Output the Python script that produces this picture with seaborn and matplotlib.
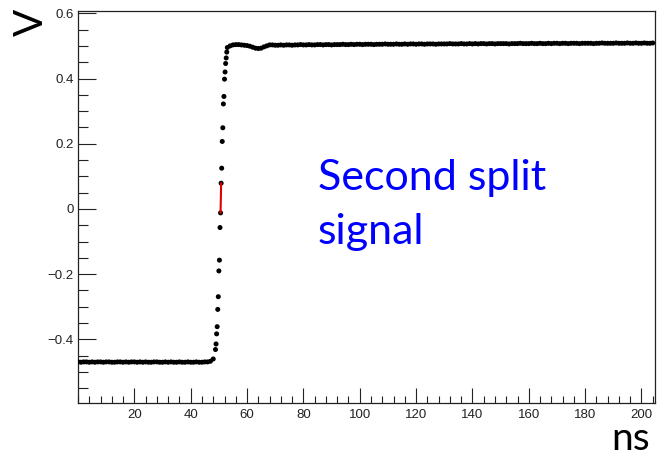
import numpy as np
import pandas as pd
import matplotlib
matplotlib.use("Agg")
import matplotlib.pyplot as plt
from matplotlib.ticker import MultipleLocator, FixedLocator
import seaborn as sns

# ---- data ----
base_t = list(range(0, 49))
base_v = [-0.469, -0.470, -0.469, -0.469, -0.470, -0.469, -0.470, -0.469, -0.469, -0.470,
          -0.469, -0.469, -0.470, -0.470, -0.469, -0.469, -0.470, -0.469, -0.470, -0.469,
          -0.469, -0.470, -0.469, -0.470, -0.469, -0.470, -0.470, -0.469, -0.469, -0.470,
          -0.470, -0.469, -0.470, -0.469, -0.470, -0.470, -0.469, -0.470, -0.470, -0.469,
          -0.470, -0.470, -0.469, -0.470, -0.470, -0.469, -0.469, -0.467, -0.460]

rise_t = [48.8, 49.0, 49.2, 49.4, 49.6, 49.8, 50.0, 50.2, 50.4, 50.6, 50.8,
          51.0, 51.2, 51.4, 51.6, 51.8, 52.0, 52.2, 52.4, 52.6, 52.8]
rise_v = [-0.431, -0.414, -0.383, -0.361, -0.308, -0.269, -0.190, -0.157, -0.057, -0.012, 0.079,
          0.125, 0.207, 0.249, 0.322, 0.345, 0.398, 0.420, 0.446, 0.463, 0.481]

top_t = list(range(53, 205))
top_v = [0.495, 0.500, 0.503, 0.504, 0.504, 0.503, 0.502, 0.501, 0.499, 0.496,
         0.493, 0.492, 0.493, 0.497, 0.500, 0.503, 0.503, 0.502,
         0.502, 0.503, 0.502, 0.503, 0.503, 0.502, 0.503, 0.503, 0.504, 0.503,
         0.503, 0.504, 0.503, 0.503, 0.504, 0.504, 0.503, 0.504, 0.504, 0.503,
         0.504, 0.504, 0.504, 0.505, 0.504, 0.504, 0.505, 0.504, 0.505, 0.505,
         0.504, 0.505, 0.505, 0.505, 0.504, 0.505, 0.505, 0.505, 0.506, 0.505,
         0.505, 0.505, 0.506, 0.505, 0.505, 0.506, 0.505, 0.506, 0.506, 0.505,
         0.506, 0.506, 0.505, 0.506, 0.506, 0.506, 0.505, 0.506, 0.506, 0.506,
         0.506, 0.507, 0.506, 0.506, 0.506, 0.507, 0.506, 0.506, 0.507, 0.506,
         0.507, 0.506, 0.507, 0.507, 0.506, 0.507, 0.507, 0.506, 0.507, 0.507,
         0.507, 0.507, 0.506, 0.507, 0.507, 0.507, 0.508, 0.507, 0.507, 0.507,
         0.508, 0.507, 0.507, 0.508, 0.507, 0.507, 0.508, 0.507, 0.508, 0.508,
         0.507, 0.508, 0.508, 0.507, 0.508, 0.508, 0.508, 0.507, 0.508, 0.508,
         0.508, 0.508, 0.507, 0.508, 0.508, 0.509, 0.508, 0.508, 0.508, 0.508,
         0.509, 0.508, 0.508, 0.508, 0.509, 0.508, 0.508, 0.509, 0.508, 0.508,
         0.509, 0.508, 0.508, 0.509]

# zero-crossing segment (red)
cross_t = [50.6, 50.8]
cross_v = [-0.012, 0.079]

x_ticks = [20, 40, 60, 80, 100, 120, 140, 160, 180, 200]
y_ticks = [-0.4, -0.2, 0.0, 0.2, 0.4, 0.6]
y_tick_labels = ["\u22120.4", "\u22120.2", "0", "0.2", "0.4", "0.6"]

df = pd.DataFrame({"t": base_t + rise_t + top_t, "v": base_v + rise_v + top_v})
df_cross = pd.DataFrame({"t": cross_t, "v": cross_v})

# ---- plot ----
sns.set_theme(style="white")
plt.rcParams["font.family"] = ["Liberation Sans", "DejaVu Sans"]

fig = plt.figure(figsize=(6.69, 4.59), dpi=100)
ax = fig.add_axes([78 / 669, 1 - 403 / 459, (655 - 78) / 669, (403 - 11) / 459])

sns.scatterplot(data=df, x="t", y="v", ax=ax, color="black", s=13, marker="o",
                linewidth=0, edgecolor="none", zorder=3)
sns.lineplot(data=df_cross, x="t", y="v", ax=ax, color="#e00000", linewidth=1.5,
             zorder=4, sort=False, estimator=None)

ax.set_xlim(0, 204.8)
ax.set_ylim(-0.595, 0.607)
ax.set_xlabel("")
ax.set_ylabel("")

ax.xaxis.set_major_locator(FixedLocator(x_ticks))
ax.xaxis.set_minor_locator(MultipleLocator(4))
ax.yaxis.set_major_locator(FixedLocator(y_ticks))
ax.set_yticklabels(y_tick_labels)
ax.yaxis.set_minor_locator(MultipleLocator(0.05))

ax.tick_params(axis="x", which="major", direction="in", length=10.5, width=0.8,
               colors="#222222", labelsize=9.5, pad=4, bottom=True, top=False)
ax.tick_params(axis="x", which="minor", direction="in", length=5, width=0.8,
               colors="#222222", bottom=True, top=False)
ax.tick_params(axis="y", which="major", direction="in", length=13, width=0.8,
               colors="#222222", labelsize=9.5, pad=3, left=True, right=False)
ax.tick_params(axis="y", which="minor", direction="in", length=7, width=0.8,
               colors="#222222", left=True, right=False)

for s in ax.spines.values():
    s.set_visible(True)
    s.set_color("#222222")
    s.set_linewidth(0.9)

fig.text(31 / 669, 1 - 22 / 459, "V", rotation=90, ha="center", va="center",
         fontsize=29, family=["Lato", "DejaVu Sans"], color="black")
fig.text(631 / 669, 1 - 450 / 459, "ns", ha="center", va="baseline",
         fontsize=28, family=["Lato", "DejaVu Sans"], color="black")
fig.text(318 / 669, 1 - 190 / 459, "Second split", ha="left", va="baseline",
         fontsize=31, family=["Lato", "DejaVu Sans"], color="#0000ff")
fig.text(318 / 669, 1 - 244 / 459, "signal", ha="left", va="baseline",
         fontsize=31, family=["Lato", "DejaVu Sans"], color="#0000ff")

fig.savefig("out.png", dpi=100)
